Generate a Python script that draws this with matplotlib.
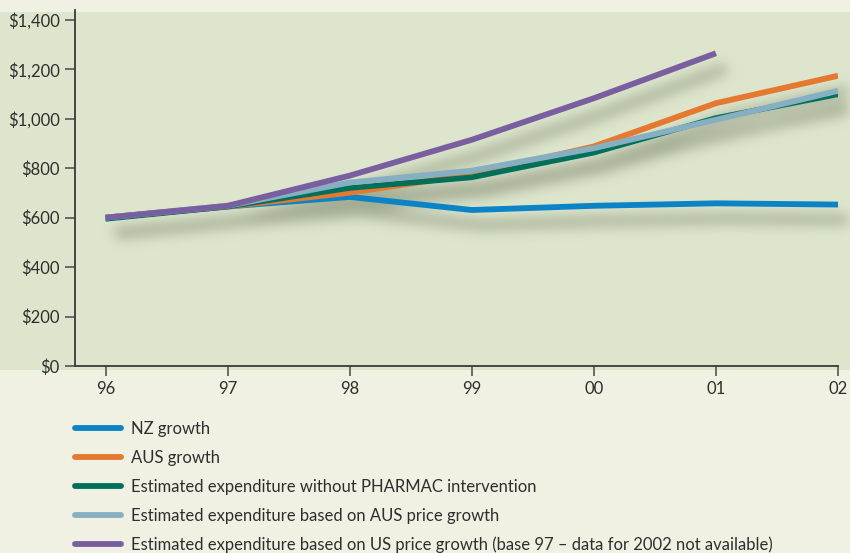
import numpy as np
import matplotlib
matplotlib.use('Agg')
import matplotlib.pyplot as plt
from matplotlib.collections import LineCollection
from matplotlib.lines import Line2D
from matplotlib.patches import Rectangle
from matplotlib.ticker import FuncFormatter
from matplotlib.colors import to_rgb

plt.rcParams['font.family'] = ['Lato', 'DejaVu Sans']

# data
years = [96, 97, 98, 99, 100, 101, 102]
year_labels = ['96', '97', '98', '99', '00', '01', '02']
nz_growth = [600, 645, 684, 631, 648, 658, 653]
aus_growth = [600, 645, 701, 775, 888, 1063, 1174]
no_pharmac = [595, 645, 720, 763, 863, 1003, 1099]
aus_price = [600, 648, 742, 790, 881, 996, 1113]
us_price = [600, 648, 770, 915, 1083, 1265, np.nan]

labels = ['NZ growth',
          'AUS growth',
          'Estimated expenditure without PHARMAC intervention',
          'Estimated expenditure based on AUS price growth',
          'Estimated expenditure based on US price growth (base 97 \u2013 data for 2002 not available)']
colors = ['#0a84c6', '#e5792f', '#00705a', '#86b0c2', '#7a5fa0']
series = [nz_growth, aus_growth, no_pharmac, aus_price, us_price]
widths = [4.2, 4.2, 4.0, 4.2, 4.2]

BG_GREEN = '#dde6cd'
BG_CREAM = '#f1f1e3'
TXT = '#2e2e2e'


def blur_1d(a, sigma, axis):
    r = int(3 * sigma)
    k = np.exp(-0.5 * (np.arange(-r, r + 1) / sigma) ** 2)
    k /= k.sum()
    return np.apply_along_axis(lambda v: np.convolve(v, k, mode='same'), axis, a)


class DropShadow:
    """agg filter: blurred, shifted copy of the drawn lines"""
    def __init__(self, color, alpha, sigma, dx, dy):
        self.color = to_rgb(color)
        self.alpha = alpha
        self.sigma = sigma
        self.dx = dx
        self.dy = dy

    def __call__(self, im, dpi):
        pad = int(3 * self.sigma) + max(abs(self.dx), abs(self.dy)) + 2
        a = np.pad(im[:, :, 3], pad)
        a = np.roll(np.roll(a, self.dy, axis=0), self.dx, axis=1)
        a = blur_1d(blur_1d(a, self.sigma, 0), self.sigma, 1)
        out = np.zeros(a.shape + (4,), dtype=im.dtype)
        out[:, :, :3] = self.color
        out[:, :, 3] = np.clip(a * self.alpha, 0, 1)
        return out, -pad, -pad


fig = plt.figure(figsize=(8.5, 5.53), dpi=100, facecolor=BG_CREAM)
# green panel behind the plot area
fig.patches.append(Rectangle((0, 1 - 370 / 553), 1, (370 - 12) / 553,
                             transform=fig.transFigure, facecolor=BG_GREEN,
                             edgecolor='none', zorder=-10))

ax = fig.add_axes([75 / 850, 1 - 366 / 553, (838 - 75) / 850, (366 - 10) / 553])
ax.set_facecolor('none')

# one soft shadow for all the lines together
segs = []
for vals in series:
    v = np.asarray(vals, dtype=float)
    ok = ~np.isnan(v)
    segs.append(np.column_stack([np.asarray(years)[ok], v[ok]]))
shadow = LineCollection(segs, colors='k', linewidths=7, capstyle='butt',
                        joinstyle='round', zorder=1, clip_on=False)
shadow.set_agg_filter(DropShadow('#5c674b', 0.45, 6.5, 10, 15))
ax.add_collection(shadow)

for vals, c, lw in zip(series, colors, widths):
    ax.plot(years, vals, color=c, lw=lw, solid_capstyle='butt',
            solid_joinstyle='round', zorder=3)

ax.set_xlim(95.75, 102)
ax.set_ylim(0, 1440)
ax.set_xticks(years)
ax.set_xticklabels(year_labels)
ax.set_yticks(np.arange(0, 1401, 200))
ax.yaxis.set_major_formatter(FuncFormatter(lambda v, p: '${:,.0f}'.format(v)))

for s in ['top', 'right']:
    ax.spines[s].set_visible(False)
for s in ['left', 'bottom']:
    ax.spines[s].set_color('#3a3a3a')
    ax.spines[s].set_linewidth(1.3)
ax.tick_params(axis='both', colors='#555555', labelcolor=TXT, labelsize=12,
               length=7, width=1.2)
ax.tick_params(axis='x', pad=4)
ax.tick_params(axis='y', pad=4)

handles = [Line2D([], [], color=c, lw=4.2, solid_capstyle='round') for c in colors]
fig.legend(handles, labels, loc='upper left', bbox_to_anchor=(68 / 850, 1 - 414 / 553),
           frameon=False, fontsize=12, handlelength=2.8, handletextpad=0.6,
           labelspacing=0.78, labelcolor=TXT, borderaxespad=0)

fig.savefig('out.png', dpi=100, facecolor=BG_CREAM)
